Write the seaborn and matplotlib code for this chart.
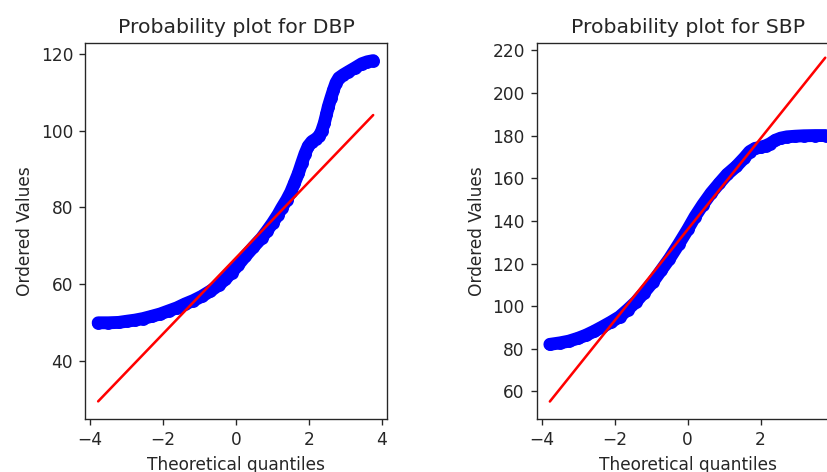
import matplotlib
matplotlib.use("Agg")
import matplotlib.pyplot as plt
import seaborn as sns

# ---- data (theoretical quantile, ordered value) ----
dbp_q = [-3.78, -3.50, -3.22, -3.00, -2.77, -2.55, -2.31, -2.08, -1.85, -1.62,
         -1.40, -1.17, -0.94, -0.70, -0.48, -0.30, -0.12, 0.06, 0.25, 0.47,
         0.70, 0.85, 1.00, 1.15, 1.25, 1.39, 1.50, 1.60, 1.71, 1.80,
         1.89, 1.98, 2.08, 2.18, 2.28, 2.35, 2.42, 2.48, 2.53, 2.60,
         2.67, 2.74, 2.82, 2.94, 3.08, 3.26, 3.45, 3.60, 3.76]
dbp_v = [49.9, 49.9, 50.0, 50.3, 50.6, 51.0, 51.6, 52.2, 53.0, 53.8,
         54.8, 55.7, 56.8, 58.2, 59.7, 61.2, 63.0, 65.0, 67.2, 69.6,
         72.0, 73.9, 75.9, 78.1, 79.8, 82.0, 84.0, 86.3, 88.9, 91.5,
         94.0, 96.0, 97.2, 97.8, 98.6, 100.0, 102.0, 104.3, 106.3, 108.5,
         110.6, 112.5, 113.8, 114.6, 115.4, 116.4, 117.5, 118.0, 118.3]
dbp_fit_q = [-3.78, 3.76]
dbp_fit_v = [29.4, 104.1]

sbp_q = [-3.78, -3.50, -3.26, -3.00, -2.79, -2.57, -2.34, -2.10, -1.87, -1.65,
         -1.42, -1.20, -0.95, -0.73, -0.50, -0.25, 0.00, 0.20, 0.41, 0.64,
         0.87, 1.08, 1.33, 1.55, 1.70, 1.85, 2.00, 2.15, 2.26, 2.40,
         2.55, 2.72, 2.95, 3.18, 3.50, 3.78]
sbp_v = [82.1, 82.8, 83.6, 85.0, 86.4, 88.2, 90.3, 92.6, 95.0, 98.3,
         102.0, 106.3, 111.5, 116.8, 122.3, 129.0, 136.0, 142.0, 147.5, 153.0,
         157.7, 161.8, 165.5, 169.5, 172.5, 174.0, 174.5, 175.3, 176.2, 177.8,
         178.8, 179.4, 179.7, 179.9, 180.0, 180.0]
sbp_fit_q = [-3.78, 3.77]
sbp_fit_v = [55.3, 216.5]

titles = ["Probability plot for DBP", "Probability plot for SBP"]
xlabel = "Theoretical quantiles"
ylabel = "Ordered Values"
dbp_xticks = [-4, -2, 0, 2, 4]
sbp_xticks = [-4, -2, 0, 2]          # the "4" label lies beyond the figure edge
dbp_yticks = [40, 60, 80, 100, 120]
sbp_yticks = [60, 80, 100, 120, 140, 160, 180, 200, 220]

# ---- style ----
sns.set_style("ticks")
plt.rcParams["font.family"] = ["DejaVu Sans"]
plt.rcParams["lines.solid_capstyle"] = "round"
plt.rcParams["lines.solid_joinstyle"] = "round"
plt.rcParams["axes.linewidth"] = 0.8
plt.rcParams["xtick.major.size"] = 3.5
plt.rcParams["ytick.major.size"] = 3.5
plt.rcParams["xtick.major.width"] = 0.8
plt.rcParams["ytick.major.width"] = 0.8

DPI = 122
fig = plt.figure(figsize=(827 / DPI, 472 / DPI), dpi=DPI)
ax1 = fig.add_axes([0.1028, 0.1123, 0.3652, 0.7966])
ax2 = fig.add_axes([0.6490, 0.1123, 0.3652, 0.7966])

panels = [
    (ax1, dbp_q, dbp_v, dbp_fit_q, dbp_fit_v, (-4.14, 4.14), (24.8, 122.9),
     titles[0], dbp_xticks, dbp_yticks),
    (ax2, sbp_q, sbp_v, sbp_fit_q, sbp_fit_v, (-4.14, 4.14), (47.1, 223.4),
     titles[1], sbp_xticks, sbp_yticks),
]

for ax, q, v, fq, fv, xl, yl, title, xt, yt in panels:
    sns.lineplot(x=q, y=v, sort=False, color="blue", linewidth=7.6,
                 marker="o", markersize=6.6, markeredgewidth=1,
                 markeredgecolor="blue", ax=ax, zorder=2)
    sns.lineplot(x=fq, y=fv, sort=False, color="red", linewidth=1.5,
                 ax=ax, zorder=3)
    ax.set_xlim(*xl)
    ax.set_ylim(*yl)
    ax.set_xticks(xt)
    ax.set_yticks(yt)
    ax.set_title(title, fontsize=12)
    ax.set_xlabel(xlabel, fontsize=10)
    ax.set_ylabel(ylabel, fontsize=10)
    ax.tick_params(labelsize=10)
    for s in ax.spines.values():
        s.set_visible(True)

fig.savefig("out.png", dpi=DPI)
